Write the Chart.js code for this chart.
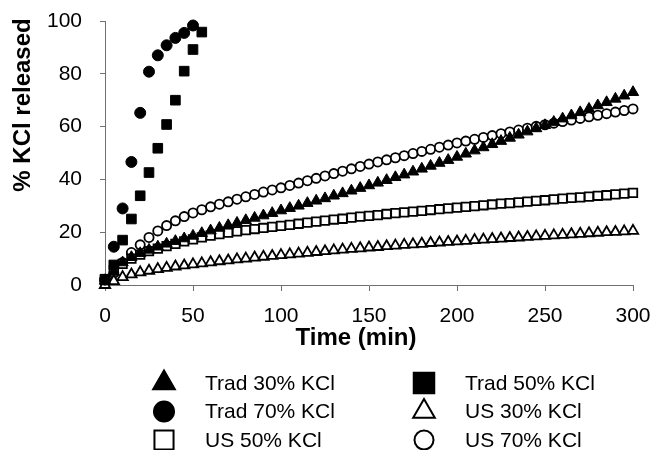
<!DOCTYPE html>
<html>
<head>
<meta charset="utf-8">
<script src="https://cdn.jsdelivr.net/npm/chart.js@4/dist/chart.umd.min.js"></script>
<style>
  html, body { margin: 0; padding: 0; background: #fff; }
  canvas { display: block; }
</style>
</head>
<body>
<canvas id="chart" width="655" height="450"></canvas>
<script>
// time points (min)
const timeLong = [0, 5, 10, 15, 20, 25, 30, 35, 40, 45, 50, 55, 60, 65, 70, 75, 80, 85, 90, 95,
  100, 105, 110, 115, 120, 125, 130, 135, 140, 145, 150, 155, 160, 165, 170, 175, 180, 185, 190, 195,
  200, 205, 210, 215, 220, 225, 230, 235, 240, 245, 250, 255, 260, 265, 270, 275, 280, 285, 290, 295, 300];
const timeTrad50 = [0, 5, 10, 15, 20, 25, 30, 35, 40, 45, 50, 55];
const timeTrad70 = [0, 5, 10, 15, 20, 25, 30, 35, 40, 45, 50];

// % KCl released
const trad30 = [1.5, 5, 8.5, 10.5, 12, 13.3, 14.5, 15.6, 16.6, 17.6, 18.6, 19.6, 20.6, 21.6, 22.6, 23.5, 24.5, 25.4, 26.3, 27.2,
  28.2, 29.1, 30.0, 31.0, 31.9, 32.8, 33.8, 34.7, 35.7, 36.7, 37.7, 38.7, 39.7, 40.8, 41.8, 42.9, 44.0, 45.1, 46.2, 47.3,
  48.5, 49.7, 50.9, 52.1, 53.3, 54.5, 55.7, 56.9, 58.1, 59.3, 60.5, 61.7, 63.0, 64.2, 65.4, 66.7, 68.0, 69.2, 70.5, 71.7, 73.0];
const trad50 = [2.2, 7.6, 17, 25, 33.8, 42.6, 51.8, 60.8, 70, 81, 89.2, 95.8];
const trad70 = [2, 14.5, 29, 46.6, 65.2, 80.8, 87, 90.8, 93.6, 95.5, 98.3];
const us30 = [0, 1.5, 3, 4, 4.8, 5.4, 6, 6.5, 7, 7.4, 7.8, 8.2, 8.6, 9.0, 9.3, 9.7, 10.0, 10.4, 10.7, 11.0,
  11.3, 11.6, 11.9, 12.2, 12.5, 12.8, 13.1, 13.4, 13.7, 13.9, 14.2, 14.4, 14.7, 14.9, 15.2, 15.4, 15.6, 15.9, 16.1, 16.3,
  16.5, 16.7, 17.0, 17.2, 17.4, 17.6, 17.8, 18.0, 18.2, 18.4, 18.6, 18.8, 19.0, 19.2, 19.4, 19.6, 19.8, 20.0, 20.1, 20.3, 20.5];
const us50 = [2, 5.5, 8, 10, 11.5, 12.8, 13.8, 14.7, 15.6, 16.5, 17.3, 18, 18.7, 19.3, 19.8, 20.3, 20.8, 21.2, 21.6, 22.0,
  22.4, 22.8, 23.2, 23.6, 24.0, 24.4, 24.8, 25.1, 25.5, 25.9, 26.2, 26.5, 26.9, 27.2, 27.5, 27.8, 28.1, 28.4, 28.7, 29.0,
  29.3, 29.6, 29.9, 30.2, 30.5, 30.8, 31.0, 31.3, 31.6, 31.9, 32.1, 32.4, 32.7, 33.0, 33.2, 33.5, 33.8, 34.0, 34.3, 34.6, 34.9];
const us70 = [1, 4.5, 8.5, 12.3, 15.2, 18, 20.5, 22.5, 24.3, 25.9, 27.3, 28.5, 29.6, 30.6, 31.5, 32.5, 33.4, 34.3, 35.2, 36.0,
  36.8, 37.7, 38.6, 39.5, 40.4, 41.3, 42.2, 43.1, 44.0, 44.9, 45.8, 46.6, 47.4, 48.2, 49.0, 49.8, 50.6, 51.4, 52.2, 53.0,
  53.8, 54.5, 55.2, 55.9, 56.6, 57.3, 58.0, 58.7, 59.4, 60.1, 60.7, 61.3, 61.9, 62.5, 63.1, 63.7, 64.3, 64.9, 65.5, 66.1, 66.7];

const seriesNames = ['Trad 30% KCl', 'Trad 50% KCl', 'Trad 70% KCl', 'US 30% KCl', 'US 50% KCl', 'US 70% KCl'];
const yTicks = [0, 20, 40, 60, 80, 100];
const xTicks = [0, 50, 100, 150, 200, 250, 300];

const FONT = 'Arial, "Liberation Sans", sans-serif';
const pts = (xs, ys) => xs.map((x, i) => ({ x: x, y: ys[i] }));

function series(label, data, style, filled, radius, legendRadius) {
  return {
    label: label,
    data: data,
    pointStyle: style,
    pointRadius: radius,
    pointHoverRadius: radius,
    legendRadius: legendRadius,
    backgroundColor: filled ? '#000' : '#fff',
    borderColor: '#000',
    borderWidth: filled ? 1 : 1.8,
    showLine: false,
    clip: false
  };
}

// keep the plot box where the reference has it (ignore label overhang padding)
function fixBox(size) {
  return s => {
    if (s.isHorizontal()) s.height = size; else s.width = size;
    s.paddingTop = s.paddingBottom = s.paddingLeft = s.paddingRight = 0;
  };
}

// two-column legend under the plot, plus axis titles
const decorations = {
  id: 'decorations',
  afterDraw(chart) {
    const ctx = chart.ctx;
    ctx.save();
    // axis titles
    ctx.fillStyle = '#000';
    ctx.font = 'bold 24px ' + FONT;
    ctx.textAlign = 'center';
    ctx.textBaseline = 'middle';
    ctx.fillText('Time (min)', 356, 338);
    ctx.save();
    ctx.translate(23, 105);
    ctx.rotate(-Math.PI / 2);
    ctx.fillText('% KCl released', 0, 0);
    ctx.restore();

    // legend
    const markX = [164, 424], textX = [205, 465];
    ctx.font = '21px ' + FONT;
    ctx.textAlign = 'left';
    chart.data.datasets.forEach((ds, i) => {
      const col = i % 2, row = Math.floor(i / 2);
      const y = 383 + row * 28.5;
      ctx.fillStyle = ds.backgroundColor;
      ctx.strokeStyle = ds.borderColor;
      ctx.lineWidth = 2;
      Chart.helpers.drawPoint(ctx, {
        pointStyle: ds.pointStyle, rotation: 0, radius: ds.legendRadius, borderWidth: 2
      }, markX[col], y);
      ctx.fillStyle = '#000';
      ctx.fillText(ds.label, textX[col], y + 1);
    });
    ctx.restore();
  }
};

new Chart(document.getElementById('chart').getContext('2d'), {
  type: 'scatter',
  data: {
    datasets: [
      series(seriesNames[0], pts(timeLong, trad30), 'triangle', true, 6.5, 12.5),
      series(seriesNames[1], pts(timeTrad50, trad50), 'rect', true, 6.8, 14.5),
      series(seriesNames[2], pts(timeTrad70, trad70), 'circle', true, 5.5, 10),
      series(seriesNames[3], pts(timeLong, us30), 'triangle', false, 6, 12.5),
      series(seriesNames[4], pts(timeLong, us50), 'rect', false, 6, 13.5),
      series(seriesNames[5], pts(timeLong, us70), 'circle', false, 4.6, 9.5)
    ]
  },
  options: {
    responsive: false,
    animation: false,
    layout: { autoPadding: false, padding: { left: 0, top: 21, right: 22, bottom: 100 } },
    plugins: {
      legend: { display: false },
      tooltip: { enabled: false }
    },
    scales: {
      x: {
        type: 'linear',
        min: 0,
        max: 300,
        afterBuildTicks: s => { s.ticks = xTicks.map(v => ({ value: v })); },
        afterFit: fixBox(65),
        border: { display: true, color: '#707070', width: 1 },
        grid: { drawOnChartArea: false, drawTicks: true, tickLength: 6, color: '#707070' },
        ticks: { color: '#000', font: { family: FONT, size: 21 }, padding: 13, maxRotation: 0 }
      },
      y: {
        type: 'linear',
        min: 0,
        max: 100,
        afterBuildTicks: s => { s.ticks = yTicks.map(v => ({ value: v })); },
        afterFit: fixBox(105),
        border: { display: true, color: '#707070', width: 1 },
        grid: { drawOnChartArea: false, drawTicks: true, tickLength: 5, color: '#707070' },
        ticks: { color: '#000', font: { family: FONT, size: 21 }, padding: 18 }
      }
    }
  },
  plugins: [decorations]
});
</script>
</body>
</html>
